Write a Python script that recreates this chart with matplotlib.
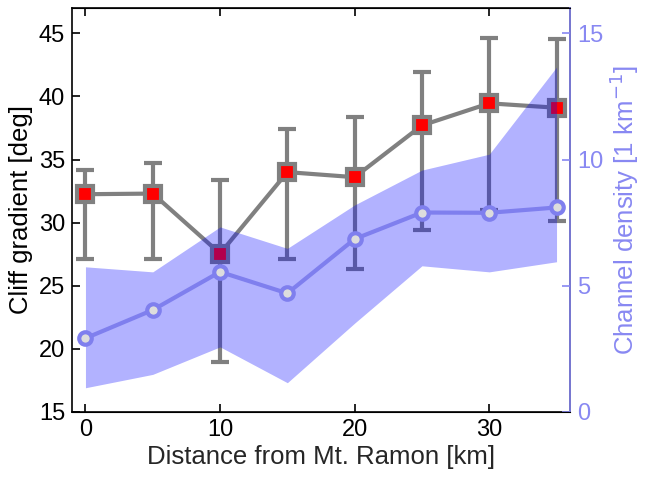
import matplotlib
matplotlib.use("Agg")
import matplotlib.pyplot as plt

plt.rcParams["font.family"] = ["Liberation Sans", "DejaVu Sans"]

# ─── Daten ────────────────────────────────────────────────────────────────────
distanz = [0, 5, 10, 15, 20, 25, 30, 35]

gradient      = [32.25, 32.3, 27.55, 34.0, 33.6, 37.7, 39.45, 39.1]
gradient_oben = [34.15, 34.7, 33.35, 37.45, 38.35, 41.9, 44.6, 44.55]
gradient_unten = [27.1, 27.1, 18.95, 27.15, 26.3, 29.4, 31.0, 30.15]

dichte       = [2.92, 4.04, 5.55, 4.70, 6.85, 7.90, 7.89, 8.10]
dichte_oben  = [5.75, 5.55, 7.33, 6.48, 8.2, 9.58, 10.21, 13.66]
dichte_unten = [0.96, 1.49, 2.58, 1.16, 3.52, 5.79, 5.55, 5.95]

GRAU = (0.5, 0.5, 0.5)
BLAU = "#7f7fee"
BLAU_ACHSE = "#8888f2"

fig = plt.figure(figsize=(6.46, 4.84), dpi=100)
ax = fig.add_axes([72 / 646, 1 - 412 / 484, (570 - 72) / 646, (412 - 8) / 484])

err_lo = [g - u for g, u in zip(gradient, gradient_unten)]
err_hi = [o - g for g, o in zip(gradient, gradient_oben)]
ax.errorbar(distanz, gradient, yerr=[err_lo, err_hi], color=GRAU, lw=3,
            elinewidth=3, capsize=6.5, capthick=3, marker="s", ms=12,
            mfc="red", mec=GRAU, mew=3)

ax.set_xlim(-1, 36)
ax.set_ylim(15, 47)
ax.set_xticks([0, 10, 20, 30])
ax.set_yticks(range(15, 50, 5))
ax.tick_params(direction="in", labelsize=17, length=6, width=1.2, top=True,
               right=False, pad=5)
ax.set_xlabel("Distance from Mt. Ramon [km]", fontsize=18.5, color="#262626",
              labelpad=3)
ax.set_ylabel("Cliff gradient [deg]", fontsize=18.5, color="black", labelpad=4)
for s in ax.spines.values():
    s.set_linewidth(1.2)

# ─── Zweite Achse: Kanaldichte ────────────────────────────────────────────────
ax2 = ax.twinx()
ax2.fill_between(distanz, dichte_unten, dichte_oben, color="blue", alpha=0.3,
                 lw=0)
ax2.plot(distanz, dichte, color=BLAU, lw=3, marker="o", ms=9, mfc="#dddddd",
         mec=BLAU, mew=3)
ax2.set_ylim(0, 16)
ax2.set_yticks([0, 5, 10, 15])
ax2.tick_params(direction="in", labelsize=17, length=6, width=1.2,
                colors=BLAU_ACHSE, pad=5)
ax2.spines["right"].set_color(BLAU_ACHSE)
ax2.spines["right"].set_linewidth(1.2)
ax2.spines["left"].set_visible(False)
ax2.set_ylabel("Channel density [1 km$^{-1}$]", fontsize=18.5,
               color=BLAU_ACHSE, labelpad=3)

fig.savefig("out.png", dpi=100)
